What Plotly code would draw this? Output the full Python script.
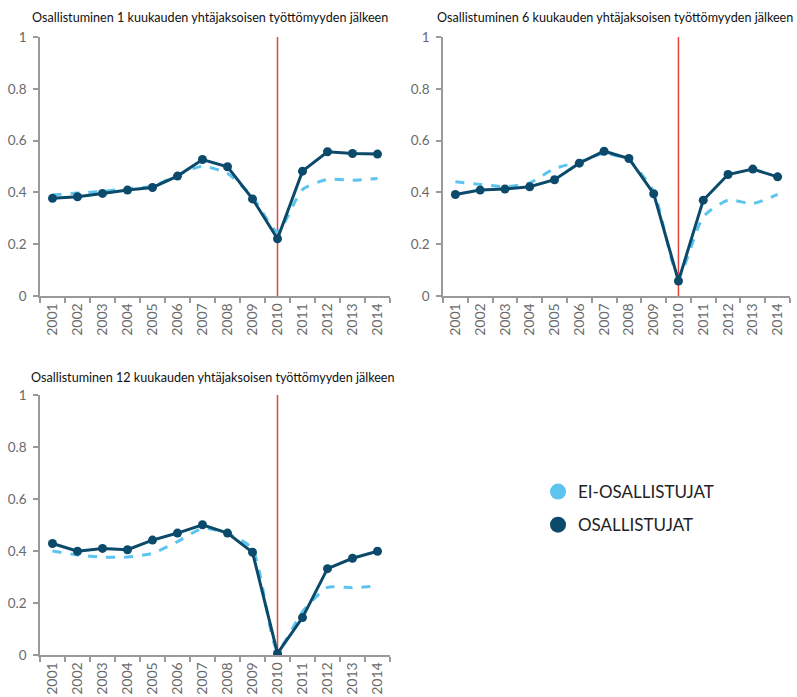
import plotly.graph_objects as go

years = [str(y) for y in range(2001, 2015)]
event_year = "2010"

titles = [
    "Osallistuminen 1 kuukauden yhtäjaksoisen työttömyyden jälkeen",
    "Osallistuminen 6 kuukauden yhtäjaksoisen työttömyyden jälkeen",
    "Osallistuminen 12 kuukauden yhtäjaksoisen työttömyyden jälkeen",
]

osall_1 = [0.377, 0.383, 0.396, 0.409, 0.419, 0.463, 0.527, 0.499, 0.375, 0.221, 0.482, 0.557, 0.550, 0.548]
ei_osall_1 = [0.390, 0.398, 0.404, 0.415, 0.424, 0.467, 0.501, 0.473, 0.383, 0.248, 0.411, 0.450, 0.447, 0.454]

osall_6 = [0.392, 0.409, 0.413, 0.422, 0.449, 0.513, 0.559, 0.531, 0.395, 0.058, 0.370, 0.469, 0.490, 0.460]
ei_osall_6 = [0.441, 0.431, 0.422, 0.437, 0.492, 0.518, 0.550, 0.524, 0.402, 0.075, 0.306, 0.370, 0.357, 0.392]

osall_12 = [0.429, 0.399, 0.410, 0.405, 0.442, 0.469, 0.501, 0.469, 0.395, 0.006, 0.144, 0.332, 0.372, 0.399]
ei_osall_12 = [0.400, 0.385, 0.376, 0.377, 0.391, 0.436, 0.487, 0.468, 0.408, 0.019, 0.167, 0.260, 0.259, 0.265]

y_ticks = [0, 0.2, 0.4, 0.6, 0.8, 1]
y_ticktext = ["0", "0.2", "0.4", "0.6", "0.8", "1"]

legend_names = ["EI-OSALLISTUJAT", "OSALLISTUJAT"]

DARK = "#0b4a6b"
LIGHT = "#5cc4ee"
RED = "#e2443c"
AXIS = "#9a9a9a"
TICKFONT = "#6a6a6a"
FONT = "Lato"

W, H = 797, 697
panels = [
    # (x0, x1, ytop, ybottom) in pixels
    (40, 390, 37, 296),
    (443, 790, 37, 296),
    (40, 390, 395, 655),
]
title_x = [30, 435, 29]
title_y = [17, 17, 377]
series = [(osall_1, ei_osall_1), (osall_6, ei_osall_6), (osall_12, ei_osall_12)]

fig = go.Figure()
layout = dict(
    template="none",
    width=W, height=H,
    margin=dict(l=0, r=0, t=0, b=0, autoexpand=False),
    paper_bgcolor="white", plot_bgcolor="white",
    showlegend=True,
    font=dict(family=FONT, color="#222"),
)

event_idx = years.index(event_year)
shapes = []
annotations = []
for i, ((x0, x1, yt, yb), (dark, light), title) in enumerate(zip(panels, series, titles)):
    n = i + 1
    xa = "x" if n == 1 else f"x{n}"
    ya = "y" if n == 1 else f"y{n}"
    xkey = "xaxis" if n == 1 else f"xaxis{n}"
    ykey = "yaxis" if n == 1 else f"yaxis{n}"
    layout[xkey] = dict(
        domain=[x0 / W, x1 / W], anchor=ya, type="category", automargin=False,
        range=[-0.5, len(years) - 0.5], showgrid=False, zeroline=False,
        showline=True, linecolor=AXIS, linewidth=1.5,
        ticks="outside", tickson="boundaries", ticklen=5, tickcolor=AXIS, tickwidth=1.5,
        tickangle=-90, tickfont=dict(size=14, color=TICKFONT, family=FONT),
    )
    layout[ykey] = dict(
        domain=[1 - yb / H, 1 - yt / H], anchor=xa, range=[0, 1], automargin=False,
        showgrid=False, zeroline=False, showline=True, linecolor=AXIS, linewidth=1.5,
        ticks="outside", ticklen=5, tickcolor=AXIS, tickwidth=1.5, ticklabelstandoff=4,
        tickvals=y_ticks, ticktext=y_ticktext,
        tickfont=dict(size=13.5, color=TICKFONT, family=FONT),
    )
    fig.add_trace(go.Scatter(
        x=years, y=light, xaxis=xa, yaxis=ya, mode="lines",
        line=dict(color=LIGHT, width=3, dash="dash", shape="spline", smoothing=0.6),
        showlegend=False, hoverinfo="skip",
    ))
    fig.add_trace(go.Scatter(
        x=years, y=dark, xaxis=xa, yaxis=ya, mode="lines+markers",
        line=dict(color=DARK, width=3), marker=dict(color=DARK, size=9),
        showlegend=False,
    ))
    shapes.append(dict(
        type="line", xref=xa, yref=ya, x0=event_idx, x1=event_idx, y0=0, y1=1,
        line=dict(color=RED, width=1.5), layer="below",
    ))
    annotations.append(dict(
        text=title, xref="paper", yref="paper",
        x=title_x[i] / W, y=1 - title_y[i] / H, xanchor="left", yanchor="middle",
        showarrow=False, font=dict(size=12.6, color="#111", family=FONT),
    ))

# legend entries
for name, col in zip(legend_names, [LIGHT, DARK]):
    fig.add_trace(go.Scatter(
        x=[None], y=[None], mode="markers", name=name, legendgroup=name,
        marker=dict(color=col, size=17), showlegend=True,
    ))

layout["legend"] = dict(
    x=538 / W, y=1 - 474 / H, xanchor="left", yanchor="top",
    font=dict(size=17, color="#222", family=FONT),
    traceorder="grouped", tracegroupgap=8, itemwidth=30, bgcolor="rgba(0,0,0,0)",
)
layout["shapes"] = shapes
layout["annotations"] = annotations
fig.update_layout(**layout)
fig.write_html("out.html", config={"displayModeBar": False},
               post_script="document.body.style.margin='0';")
